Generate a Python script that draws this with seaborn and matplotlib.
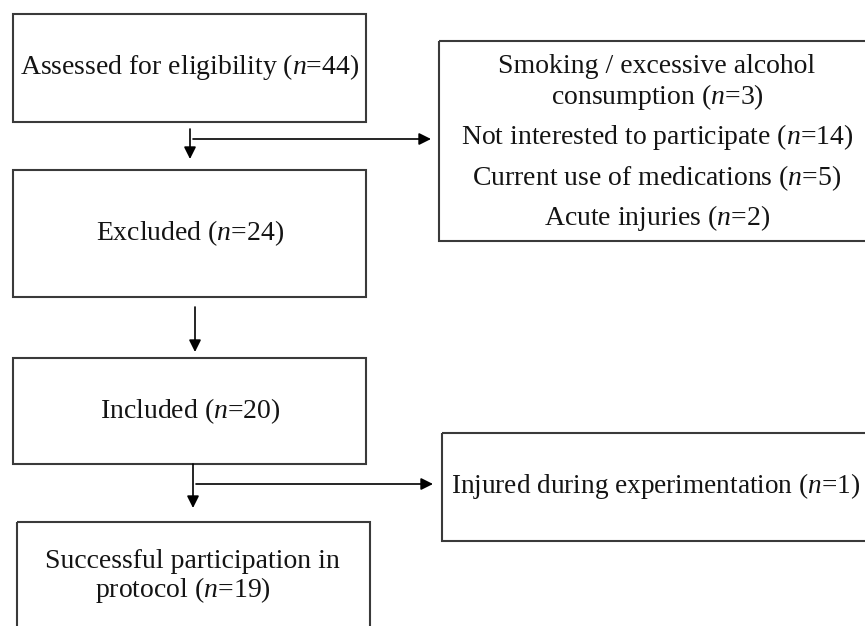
import matplotlib
matplotlib.use("Agg")
import matplotlib.pyplot as plt
from matplotlib.patches import Rectangle
import seaborn as sns

# ---- data (flow diagram content) ----
main_labels = ["Assessed for eligibility", "Excluded", "Included",
               "Successful participation in\nprotocol"]
main_counts = [44, 24, 20, 19]
excl_reasons = ["Smoking / excessive alcohol\nconsumption", "Not interested to participate",
                "Current use of medications", "Acute injuries"]
excl_counts = [3, 14, 5, 2]
drop_labels = ["Injured during experimentation"]
drop_counts = [1]

sns.set_theme(style="white")
plt.rcParams['font.family'] = ['Liberation Serif', 'DejaVu Serif']
plt.rcParams['mathtext.fontset'] = 'custom'
plt.rcParams['mathtext.rm'] = 'Liberation Serif'
plt.rcParams['mathtext.it'] = 'Liberation Serif:italic'

W, H = 865, 626
fig = plt.figure(figsize=(W / 100, H / 100), dpi=100)
ax = fig.add_axes([0, 0, 1, 1])
ax.set_xlim(0, W)
ax.set_ylim(H, 0)
ax.axis("off")

FS = 20
edge = "#3a3a3a"
tc = "#141414"

def lab(text, n):
    parts = text.split("\n")
    parts[-1] = parts[-1] + " ($n$=%d)" % n
    return parts

# layout of main boxes: (x0, y0, x1, y1)
main_boxes = [(13, 14, 366, 122), (13, 170, 366, 297), (13, 358, 366, 464), (17, 522, 370, 660)]
main_line_pos = [[(190, 67)], [(190, 233)], [(190, 411)], [(192, 561), (183, 590)]]
for (x0, y0, x1, y1), pos, t, n in zip(main_boxes, main_line_pos, main_labels, main_counts):
    ax.add_patch(Rectangle((x0, y0), x1 - x0, y1 - y0, fill=False, ec=edge, lw=1.5))
    for (tx, ty), line in zip(pos, lab(t, n)):
        ax.text(tx, ty, line, ha="center", va="center", fontsize=FS, color=tc)

# side boxes (extend past the right edge of the canvas)
side_boxes = [(439, 41, 920, 241), (442, 433, 920, 541)]
for (x0, y0, x1, y1) in side_boxes:
    ax.add_patch(Rectangle((x0, y0), x1 - x0, y1 - y0, fill=False, ec=edge, lw=1.5))

excl_y = [83, 137, 178, 218]
for t, n, y in zip(excl_reasons, excl_counts, excl_y):
    ax.text(657, y, "\n".join(lab(t, n)), ha="center", va="center", fontsize=FS, color=tc,
            linespacing=1.12)
for t, n in zip(drop_labels, drop_counts):
    ax.text(451, 486, "\n".join(lab(t, n)), ha="left", va="center", fontsize=19.6, color=tc)

# arrows
ap = dict(arrowstyle="-|>", color="black", lw=1.2, mutation_scale=18, shrinkA=0, shrinkB=0)
def arrow(x0, y0, x1, y1):
    ax.annotate("", xy=(x1, y1), xytext=(x0, y0), arrowprops=ap)

arrow(190, 129, 190, 159)
arrow(193, 139, 431, 139)
arrow(195, 307, 195, 352)
arrow(193, 464, 193, 508)
arrow(196, 484, 433, 484)

fig.savefig("out.png", dpi=100, facecolor="white")
